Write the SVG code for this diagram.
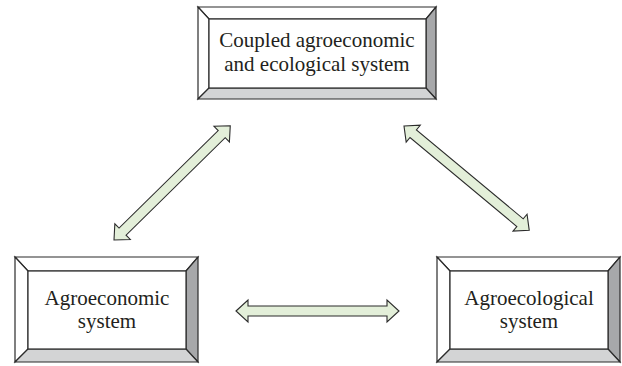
<svg xmlns="http://www.w3.org/2000/svg" width="622" height="366" viewBox="0 0 622 366">
<style>
.bv{stroke:#2b2b2b;stroke-width:1.2;stroke-linejoin:miter}
.w{fill:#ffffff}
.r{fill:#a7a8aa}
.b{fill:#d3d4d5}
.t{font-family:"Liberation Serif","Times New Roman",serif;font-size:21px;fill:#231f20;text-anchor:middle}
.arr{fill:#e3efd9;stroke:#2b2b2b;stroke-width:1.1;stroke-linejoin:miter}
</style>
<defs>
<polygon id="a163" points="0,0 12,-11 12,-5 151,-5 151,-11 163,0 151,11 151,5 12,5 12,11"/>
</defs>
<rect width="622" height="366" fill="#ffffff"/>
<g id="connectors" class="arr">
<use href="#a163" transform="translate(114,240) rotate(-44.5)"/>
<use href="#a163" transform="translate(404,126) rotate(39.8)"/>
<use href="#a163" transform="translate(236,311)"/>
</g>
<g id="coupled">
<polygon class="bv w" points="198,7 436,7 426,19 209,19"/>
<polygon class="bv w" points="198,7 209,19 209,88 198,99"/>
<polygon class="bv r" points="436,7 436,99 426,88 426,19"/>
<polygon class="bv b" points="198,99 209,88 426,88 436,99"/>
<rect class="bv w" x="209" y="19" width="217" height="69"/>
<text class="t" x="317" y="47">Coupled agroeconomic</text>
<text class="t" x="317" y="71">and ecological system</text>
</g>
<g id="agroeconomic">
<polygon class="bv w" points="15,257 198,257 186,271 28,271"/>
<polygon class="bv w" points="15,257 28,271 28,349 15,362"/>
<polygon class="bv r" points="198,257 198,362 186,349 186,271"/>
<polygon class="bv b" points="15,362 28,349 186,349 198,362"/>
<rect class="bv w" x="28" y="271" width="158" height="78"/>
<text class="t" x="107" y="305">Agroeconomic</text>
<text class="t" x="107" y="328">system</text>
</g>
<g id="agroecological">
<polygon class="bv w" points="437,257 620,257 608,271 450,271"/>
<polygon class="bv w" points="437,257 450,271 450,349 437,362"/>
<polygon class="bv r" points="620,257 620,362 608,349 608,271"/>
<polygon class="bv b" points="437,362 450,349 608,349 620,362"/>
<rect class="bv w" x="450" y="271" width="158" height="78"/>
<text class="t" x="529" y="305">Agroecological</text>
<text class="t" x="529" y="328">system</text>
</g>
</svg>
